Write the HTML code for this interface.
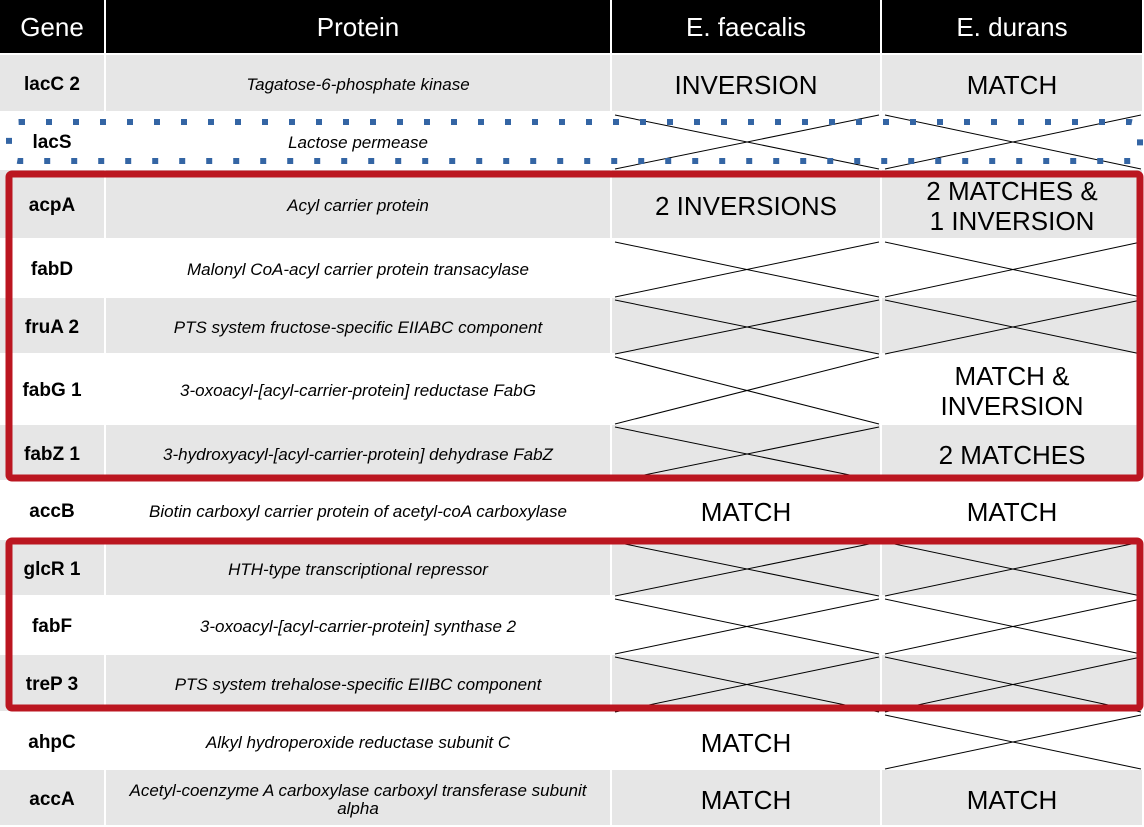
<!DOCTYPE html>
<html><head><meta charset="utf-8"><style>
body{margin:0;width:1144px;height:827px;position:relative;overflow:hidden;background:#fff;font-family:"Liberation Sans",sans-serif}
.c{position:absolute;display:flex;align-items:center;justify-content:center;text-align:center;box-sizing:border-box;padding-top:4px}
.h{background:#000;color:#fff;font-size:26px;padding-top:2px}
.g{font-weight:bold;font-size:19px}
.p{font-style:italic;font-size:17px;padding-left:18px;padding-right:18px;line-height:18px}
.r{font-size:26px;line-height:30px}
svg{position:absolute;left:0;top:0}
</style></head><body>
<div id="t"></div>
<svg id="ov" width="1144" height="827"></svg>
<script>
const cols=[0,106,612,882,1144];
const tops=[0,55,113,170,240,298,355,425,482,540,597,655,713,770,827];
const headers=["Gene","Protein","E. faecalis","E. durans"];
const genes=["lacC 2","lacS","acpA","fabD","fruA 2","fabG 1","fabZ 1","accB","glcR 1","fabF","treP 3","ahpC","accA"];
const proteins=["Tagatose-6-phosphate kinase","Lactose permease","Acyl carrier protein","Malonyl CoA-acyl carrier protein transacylase","PTS system fructose-specific EIIABC component","3-oxoacyl-[acyl-carrier-protein] reductase FabG","3-hydroxyacyl-[acyl-carrier-protein] dehydrase FabZ","Biotin carboxyl carrier protein of acetyl-coA carboxylase","HTH-type transcriptional repressor","3-oxoacyl-[acyl-carrier-protein] synthase 2","PTS system trehalose-specific EIIBC component","Alkyl hydroperoxide reductase subunit C","Acetyl-coenzyme A carboxylase carboxyl transferase subunit alpha"];
const faecalis=["INVERSION","X","2 INVERSIONS","X","X","X","X","MATCH","X","X","X","MATCH","MATCH"];
const durans=["MATCH","X","2 MATCHES &<br>1 INVERSION","X","X","MATCH &<br>INVERSION","2 MATCHES","MATCH","X","X","X","X","MATCH"];
const t=document.getElementById('t');
const ov=document.getElementById('ov');
const NS="http://www.w3.org/2000/svg";
function cell(x0,x1,y0,y1,html,cls,bg){
  const d=document.createElement('div');
  d.className='c '+cls;
  d.style.cssText=`left:${x0}px;top:${y0}px;width:${x1-x0-2}px;height:${y1-y0-2}px;background:${bg}`;
  d.innerHTML=html;
  t.appendChild(d);return d;
}
headers.forEach((h,i)=>{
  const d=cell(cols[i],cols[i+1],0,55,h,'h','#000');
  
  
});
genes.forEach((g,i)=>{
  const y0=tops[i+1],y1=tops[i+2];
  const bg=i%2===0?'#e6e6e6':'#fff';
  const vals=[g,proteins[i],faecalis[i],durans[i]];
  const cls=['g','p','r','r'];
  vals.forEach((v,j)=>{
    const d=cell(cols[j],cols[j+1],y0,y1,v==='X'?'':v,cls[j],bg);
    
    
    if(v==='X'){
      [[cols[j]+3,y0+2,cols[j+1]-3,y1-1],[cols[j]+3,y1-1,cols[j+1]-3,y0+2]].forEach(c=>{
        const l=document.createElementNS(NS,'line');
        l.setAttribute('x1',c[0]);l.setAttribute('y1',c[1]);l.setAttribute('x2',c[2]);l.setAttribute('y2',c[3]);
        l.setAttribute('stroke','#000');l.setAttribute('stroke-width','1');
        
        
        ov.appendChild(l);
      });
    }
  });
});
function rect(x,y,w,h,attrs,name){
  const r=document.createElementNS(NS,'rect');
  r.setAttribute('x',x);r.setAttribute('y',y);r.setAttribute('width',w);r.setAttribute('height',h);
  for(const k in attrs)r.setAttribute(k,attrs[k]);
  
  
  ov.appendChild(r);
}
rect(9,122,1131,39,{fill:'none',stroke:'#3465a4','stroke-width':6,'stroke-dasharray':'6 21',rx:10},'lacs-dotted-box');
rect(9,174,1131,304,{fill:'none',stroke:'#bb1620','stroke-width':7,rx:3},'highlight-box-1');
rect(9,541,1131,167,{fill:'none',stroke:'#bb1620','stroke-width':7,rx:3},'highlight-box-2');
</script>
</body></html>
